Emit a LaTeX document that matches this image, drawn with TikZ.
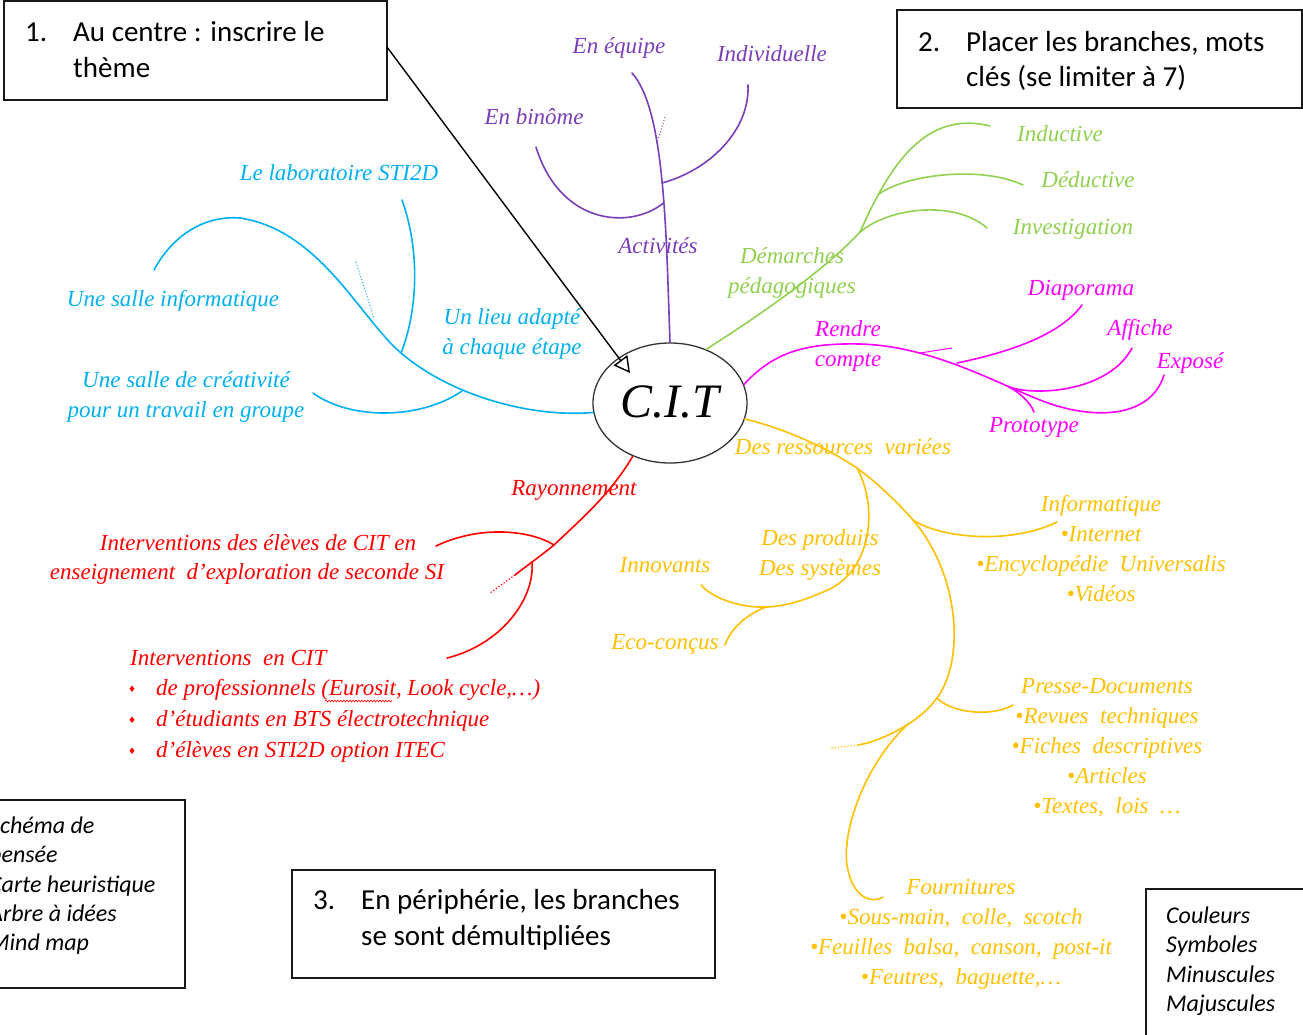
\documentclass[tikz,border=0pt]{standalone}
\usepackage{fontspec}
\setmainfont{Liberation Serif}
\newfontfamily\boxfont{Carlito}
\newfontfamily\symfont{DejaVu Sans}
\usetikzlibrary{arrows.meta,shapes.geometric,decorations.pathmorphing}
\definecolor{cpurple}{RGB}{122,62,184}
\definecolor{cgreen}{RGB}{146,208,80}
\definecolor{cmag}{RGB}{255,0,255}
\definecolor{cblue}{RGB}{0,176,240}
\definecolor{cred}{RGB}{255,0,0}
\definecolor{cyel}{RGB}{255,192,0}
\tikzset{
  mm/.style={font=\itshape\fontsize{23}{30}\selectfont, inner sep=0pt, align=center},
  mml/.style={font=\itshape\fontsize{23}{30}\selectfont, inner sep=0pt, anchor=base west},
  bul/.style={font=\symfont\fontsize{9}{9}\selectfont, inner sep=0pt, anchor=base west},
  br/.style={line width=1.6pt, line cap=round},
  frame/.style={draw=black!90, line width=1.8pt},
  boxtxt/.style={font=\boxfont\fontsize{29}{36}\selectfont, anchor=base west, inner sep=0pt},
  boxit/.style={font=\boxfont\itshape\fontsize{24}{29.5}\selectfont, anchor=base west, inner sep=0pt},
}
\begin{document}
\begin{tikzpicture}[x=1pt,y=-1pt]
\useasboundingbox (0,0) rectangle (1303,1034);
\fill[white] (0,0) rectangle (1303,1034);

% ---------- frames ----------
\draw[frame] (4,1) rectangle (387,100);
\draw[frame] (897,10) rectangle (1302,108);
\draw[frame] (292,870) rectangle (715,978);
\draw[frame] (-20,800) -- (185,800) -- (185,988) -- (-20,988);
\draw[frame] (1320,889) -- (1146,889) -- (1146,1050);

\node[boxtxt] (n1) at (25,41) {1.};
\node[boxtxt] (t1a) at (73,41) {Au centre : inscrire le};
\node[boxtxt] (t1b) at (73,77) {thème};
\node[boxtxt] (n2) at (918,51) {2.};
\node[boxtxt] (t2a) at (966,51) {Placer les branches, mots};
\node[boxtxt] (t2b) at (966,86) {clés (se limiter à 7)};
\node[boxtxt] (n3) at (313,909) {3.};
\node[boxtxt] (t3a) at (361,909) {En périphérie, les branches};
\node[boxtxt] (t3b) at (361,945) {se sont démultipliées};

\node[boxit] (l1) at (-11,833) {Schéma de};
\node[boxit] (l2) at (-11,862) {pensée};
\node[boxit] (l3) at (-11,892) {Carte heuristique};
\node[boxit] (l4) at (-11,921) {Arbre à idées};
\node[boxit] (l5) at (-11,950) {Mind map};

\node[boxit] (r1) at (1166,923) {Couleurs};
\node[boxit] (r2) at (1166,952) {Symboles};
\node[boxit] (r3) at (1166,982) {Minuscules};
\node[boxit] (r4) at (1166,1011) {Majuscules};

% ---------- centre ----------
\node[draw=black!80, line width=1.3pt, ellipse, minimum width=154pt, minimum height=120pt, inner sep=0pt,
      font=\itshape\fontsize{48}{48}\selectfont] (cit) at (670,403) {\raisebox{3pt}{C.I.T}};
\coordinate (tip) at (630,373);
\draw[line width=1.4pt, -{Triangle[open,length=16pt,width=17pt]}] (387,47) -- (tip);

% ---------- purple ----------
\coordinate (pA) at (663.5,203);
\coordinate (pB) at (662,183);
\draw[br,cpurple] (cit.north) .. controls (666,230) and (665,110) .. (632,73);
\draw[br,cpurple] (pA) .. controls (630,230) and (560,225) .. (536,147);
\draw[br,cpurple] (pB) .. controls (710,170) and (750,130) .. (748,85);
\draw[cpurple, line width=1pt, dotted] (665,117) -- (658,140);
\node[mm,cpurple] (equipe) at (619,48) {En équipe};
\node[mm,cpurple] (indiv) at (772,54) {Individuelle};
\node[mm,cpurple] (binome) at (534,117) {En binôme};
\node[mm,cpurple] (activ) at (658,246) {Activités};

% ---------- green ----------
\coordinate (gS) at (860,232);
\coordinate (gM) at (879,194);
\draw[br,cgreen] (cit.56) .. controls (760,315) and (825,270) .. (gS);
\draw[br,cgreen] (gS) .. controls (890,165) and (925,110) .. (990,126);
\draw[br,cgreen] (gM) .. controls (905,175) and (980,165) .. (1023,185);
\draw[br,cgreen] (gS) .. controls (890,207) and (955,200) .. (987,228);
\node[mm,cgreen] (induc) at (1060,134) {Inductive};
\node[mm,cgreen] (deduc) at (1088,180) {Déductive};
\node[mm,cgreen] (invest) at (1073,229) {Investigation};
\node[mm,cgreen] (demarch) at (792,273) {Démarches\\pédagogiques};

% ---------- magenta ----------
\coordinate (mD) at (957,363);
\coordinate (mA) at (1009,387);
\coordinate (mH) at (920,353);
\draw[br,cmag] (cit.14) .. controls (775,350) and (810,343) .. (860,344)
   .. controls (930,346) and (990,380) .. (1040,400)
   .. controls (1090,420) and (1150,420) .. (1164,375);
\draw[br,cmag] (mD) .. controls (1010,352) and (1060,335) .. (1082,305);
\draw[br,cmag] (mA) .. controls (1040,397) and (1110,390) .. (1132,348);
\draw[br,cmag] (mA) .. controls (1020,393) and (1030,402) .. (1034,412);
\draw[cmag, line width=1pt] (mH) -- (952,348);
\node[mm,cmag] (rendre) at (848,346) {Rendre\\compte};
\node[mm,cmag] (diapo) at (1081,290) {Diaporama};
\node[mm,cmag] (affiche) at (1140,330) {Affiche};
\node[mm,cmag] (expose) at (1190,363) {Exposé};
\node[mm,cmag] (proto) at (1034,427) {Prototype};

% ---------- blue ----------
\coordinate (bL) at (401,353);
\coordinate (bC) at (462,391);
\draw[br,cblue] (cit.187) .. controls (530,418) and (450,395) .. (bL)
   .. controls (360,318) and (320,230) .. (240,218)
   .. controls (200,215) and (170,240) .. (154,270);
\draw[br,cblue] (bL) .. controls (418,310) and (420,250) .. (402,200);
\draw[br,cblue] (bC) .. controls (420,420) and (350,420) .. (313,393);
\draw[cblue, line width=1pt, dotted] (356,262) -- (374,318);
\node[mm,cblue] (labo) at (339,173) {Le laboratoire STI2D};
\node[mm,cblue] (sinfo) at (173,301) {Une salle informatique};
\node[mm,cblue] (lieu) at (512,334) {Un lieu adapté\\à chaque étape};
\node[mm,cblue] (screa) at (186,397) {Une salle de créativité\\pour un travail en groupe};

% ---------- red ----------
\coordinate (rE) at (554,545);
\coordinate (rC) at (532,562);
\coordinate (rT) at (515,575);
\draw[br,cred] (cit.235) .. controls (610,495) and (580,520) .. (rE)
   .. controls (538,558) and (525,567) .. (rT);
\draw[cred, line width=1.2pt, dotted] (rT) -- (490,593);
\draw[br,cred] (rE) .. controls (530,530) and (480,525) .. (436,546);
\draw[br,cred] (rC) .. controls (535,600) and (500,645) .. (447,658);
\node[mm,cred] (rayon) at (574,490) {Rayonnement};
\node[mm,cred] (ieleves1) at (258,543) {Interventions des élèves de CIT en};
\node[mm,cred] (ieleves2) at (247,574) {enseignement\ \ d’exploration de seconde SI};
\node[mml,cred] (icit) at (130,665) {Interventions\ \ en CIT};
\node[bul,cred] (b1) at (128,692) {♦};
\node[bul,cred] (b2) at (128,723) {♦};
\node[bul,cred] (b3) at (128,754) {♦};
\node[mml,cred] (it1) at (156,695) {de professionnels (Eurosit, Look cycle,…)};
\node[mml,cred] (it2) at (156,726) {d’étudiants en BTS électrotechnique};
\node[mml,cred] (it3) at (156,757) {d’élèves en STI2D option ITEC};
\draw[cred, line width=0.6pt, decorate, decoration={snake, amplitude=0.9pt, segment length=3pt}] (325,701) -- (392,701);

% ---------- yellow ----------
\coordinate (yS) at (857,468);
\coordinate (yI) at (913,520);
\coordinate (yJ) at (766,607);
\coordinate (yP) at (937,698);
\coordinate (yF) at (907,725);
\draw[br,cyel] (cit.-12) .. controls (790,430) and (830,450) .. (yS)
   .. controls (880,485) and (900,505) .. (yI);
\draw[br,cyel] (yS) .. controls (880,510) and (870,575) .. (823,592)
   .. controls (800,602) and (785,606) .. (yJ);
\draw[br,cyel] (yJ) .. controls (740,608) and (712,598) .. (701,585);
\draw[br,cyel] (yJ) .. controls (745,615) and (730,630) .. (725,645);
\draw[br,cyel] (yI) .. controls (940,538) and (1010,545) .. (1057,522);
\draw[br,cyel] (yI) .. controls (960,575) and (965,660) .. (yP);
\draw[br,cyel] (yP) .. controls (950,712) and (990,718) .. (1013,705);
\draw[br,cyel] (yP) .. controls (928,710) and (918,718) .. (yF);
\draw[br,cyel] (yF) .. controls (885,738) and (870,743) .. (858,745);
\draw[cyel, line width=1.2pt, dotted] (858,745) -- (830,748);
\draw[br,cyel] (yF) .. controls (860,770) and (840,840) .. (848,870)
   .. controls (853,895) and (870,905) .. (883,897);
\node[mm,cyel] (ressources) at (843,447) {Des ressources\ \ variées};
\node[mm,cyel] (produits) at (820,555) {Des produits\\Des systèmes};
\node[mm,cyel] (innov) at (665,565) {Innovants};
\node[mm,cyel] (eco) at (665,644) {Eco-conçus};
\node[mm,cyel] (infor) at (1101,549) {Informatique\\•Internet\\•Encyclopédie\ \ Universalis\\•Vidéos};
\node[mm,cyel] (presse) at (1107,748) {Presse-Documents\\•Revues\ \ techniques\\•Fiches\ \ descriptives\\•Articles\\•Textes,\ \ lois\ \ …};
\node[mm,cyel] (fourn) at (961,934) {Fournitures\\•Sous-main,\ \ colle,\ \ scotch\\•Feuilles\ \ balsa,\ \ canson,\ \ post-it\\•Feutres,\ \ baguette,…};
\end{tikzpicture}
\end{document}
